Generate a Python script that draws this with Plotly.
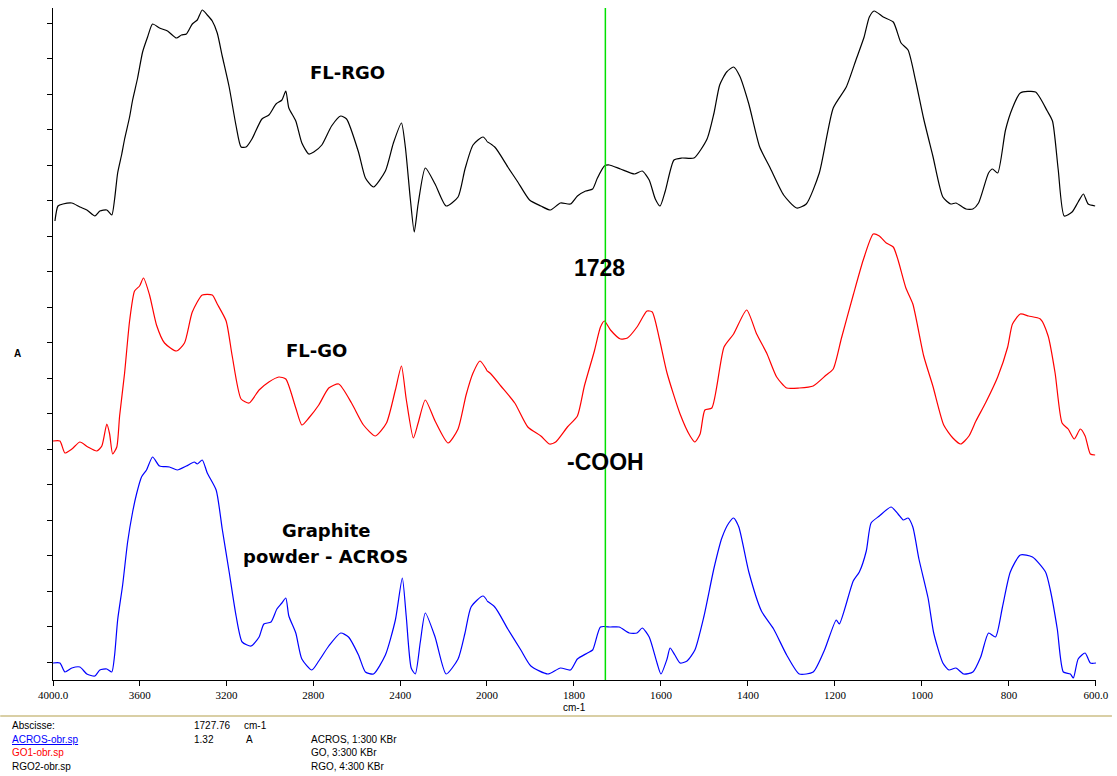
import plotly.graph_objects as go

# ---------------- data (wavenumber cm-1, absorbance in arbitrary units) ----------------
rgo_wn = [3991, 3977, 3954, 3913, 3876, 3844, 3807, 3784, 3752, 3729, 3716, 3702, 3683, 3670, 3647,
          3633, 3610, 3587, 3564, 3541, 3509, 3472, 3431, 3408, 3385, 3358, 3335, 3312, 3289, 3266,
          3243, 3220, 3188, 3156, 3133, 3110, 3083, 3037, 3005, 2972, 2945, 2927, 2913, 2881, 2853,
          2821, 2798, 2761, 2716, 2674, 2647, 2592, 2560, 2523, 2468, 2431, 2394, 2376, 2353, 2335,
          2317, 2284, 2239, 2188, 2133, 2101, 2064, 2018, 1982, 1952, 1929, 1902, 1876, 1854, 1831,
          1808, 1792, 1773, 1757, 1746, 1730, 1719, 1693, 1661, 1643, 1627, 1613, 1602, 1590, 1570,
          1552, 1524, 1494, 1478, 1465, 1449, 1433, 1419, 1398, 1373, 1350, 1318, 1288, 1266, 1236,
          1204, 1174, 1151, 1133, 1121, 1110, 1089, 1066, 1048, 1032, 1014, 996, 975, 952, 934,
          922, 899, 883, 870, 847, 838, 826, 808, 792, 774, 739, 712, 700, 687, 673,
          655, 641, 629, 618, 602]
rgo_a = [459, 474, 476, 477, 473, 470, 464, 469, 470, 465, 481, 507, 526, 541, 563,
         580, 602, 628, 643, 656, 652, 649, 642, 645, 646, 656, 660, 670, 665, 659,
         647, 624, 593, 554, 533, 533, 541, 561, 565, 576, 580, 589, 572, 559, 537,
         526, 528, 535, 554, 564, 561, 528, 502, 493, 509, 537, 557, 533, 481, 448,
         476, 512, 496, 474, 483, 511, 535, 543, 533, 513, 498, 480, 474, 470, 477,
         476, 484, 489, 491, 502, 514, 515, 511, 506, 509, 500, 481, 474, 489, 520,
         522, 522, 541, 567, 595, 608, 613, 604, 576, 533, 513, 485, 472, 476, 507,
         572, 593, 621, 643, 663, 669, 663, 658, 637, 630, 598, 561, 524, 483, 476,
         477, 471, 471, 477, 507, 511, 507, 550, 572, 587, 588, 569, 559, 511, 464,
         468, 478, 486, 476, 474]

go_wn = [4000, 3968, 3945, 3913, 3876, 3839, 3798, 3775, 3752, 3739, 3725, 3706, 3693, 3670, 3647,
         3624, 3601, 3583, 3555, 3523, 3486, 3431, 3394, 3358, 3312, 3266, 3243, 3202, 3174, 3133,
         3096, 3050, 3005, 2959, 2927, 2881, 2853, 2821, 2775, 2729, 2683, 2624, 2569, 2514, 2463,
         2422, 2394, 2372, 2339, 2317, 2284, 2239, 2179, 2133, 2096, 2064, 2032, 1993, 1968, 1936,
         1906, 1876, 1856, 1842, 1815, 1792, 1776, 1753, 1739, 1730, 1716, 1693, 1677, 1655, 1632,
         1620, 1604, 1586, 1556, 1533, 1522, 1510, 1499, 1483, 1455, 1433, 1403, 1380, 1357, 1334,
         1311, 1282, 1250, 1220, 1204, 1185, 1158, 1135, 1112, 1098, 1082, 1066, 1055, 1037, 1021,
         996, 975, 950, 929, 911, 892, 876, 854, 826, 803, 792, 774, 755, 728, 710,
         694, 678, 664, 650, 636, 625, 613, 602]
go_a = [239, 239, 227, 231, 238, 233, 229, 234, 256, 246, 226, 233, 264, 307, 359,
        389, 394, 402, 385, 355, 337, 329, 337, 368, 385, 385, 376, 359, 324, 281,
        277, 290, 298, 303, 301, 272, 255, 262, 275, 292, 296, 277, 255, 244, 257,
        290, 314, 281, 242, 257, 280, 259, 237, 251, 285, 307, 319, 307, 294, 277,
        253, 244, 236, 238, 253, 264, 294, 329, 353, 359, 350, 341, 342, 353, 369,
        368, 342, 307, 266, 244, 238, 246, 270, 272, 333, 346, 370, 346, 327, 303,
        292, 292, 294, 305, 311, 342, 385, 420, 446, 444, 437, 433, 420, 392, 376,
        324, 294, 255, 242, 236, 244, 259, 277, 303, 333, 356, 366, 364, 361, 344,
        307, 257, 251, 241, 251, 244, 226, 225]

acros_wn = [4000, 3968, 3945, 3913, 3876, 3844, 3807, 3784, 3752, 3729, 3716, 3702, 3679, 3656, 3633,
            3615, 3592, 3569, 3541, 3509, 3463, 3427, 3385, 3349, 3335, 3312, 3289, 3248, 3220, 3188,
            3156, 3128, 3087, 3050, 3028, 2995, 2968, 2945, 2927, 2913, 2881, 2853, 2807, 2775, 2729,
            2674, 2638, 2592, 2560, 2523, 2468, 2422, 2390, 2372, 2349, 2330, 2307, 2284, 2239, 2188,
            2133, 2101, 2073, 2018, 1982, 1952, 1922, 1899, 1860, 1831, 1808, 1792, 1769, 1757, 1739,
            1716, 1696, 1673, 1655, 1643, 1627, 1609, 1600, 1586, 1579, 1568, 1556, 1540, 1522, 1501,
            1478, 1460, 1444, 1433, 1421, 1398, 1369, 1341, 1311, 1282, 1250, 1224, 1197, 1190, 1158,
            1144, 1128, 1117, 1098, 1071, 1055, 1043, 1032, 1021, 1007, 986, 973, 952, 938, 922,
            904, 883, 865, 847, 831, 815, 797, 774, 746, 716, 705, 689, 675, 659, 652,
            641, 625, 613, 600]
acros_a = [17, 17, 8, 12, 13, 6, 4, 10, 11, 8, 25, 60, 95, 138, 168,
           186, 203, 210, 223, 214, 213, 210, 214, 218, 216, 220, 207, 190, 151, 108,
           64, 38, 34, 43, 56, 58, 71, 77, 82, 64, 47, 21, 10, 19, 34,
           47, 43, 25, 8, 6, 25, 60, 102, 64, 12, 6, 38, 67, 43, 6,
           21, 47, 73, 84, 73, 51, 30, 14, 6, 12, 10, 21, 27, 30, 53,
           53, 53, 47, 47, 52, 43, 17, 6, 21, 32, 25, 17, 19, 30, 64,
           112, 142, 157, 162, 153, 108, 69, 51, 25, 6, 8, 30, 60, 56, 99,
           108, 129, 157, 164, 173, 166, 160, 162, 153, 121, 82, 47, 17, 10, 12,
           6, 8, 23, 47, 43, 73, 108, 125, 123, 108, 90, 51, 8, 6, 2,
           21, 27, 17, 17]

cursor_wn = 1727.76
hi_ticks = [4000, 3600, 3200, 2800, 2400]
hi_ticktext = ["4000.0", "3600", "3200", "2800", "2400"]
lo_ticks = [2000, 1800, 1600, 1400, 1200, 1000, 800, 600]
lo_ticktext = ["2000", "1800", "1600", "1400", "1200", "1000", "800", "600.0"]
BREAK = 2000

# ---------------- geometry ----------------
W, H = 1117, 776
ML, MR, MT, MB = 53, 16, 8, 96
PW, PH = W - ML - MR, H - MT - MB
split_frac = 436 / PW


def px(xp):
    return (xp - ML) / PW


def py(yp):
    return (H - MB - yp) / PH


def split(wn, a):
    k = next(i for i, w in enumerate(wn) if w < BREAK)
    return (wn[:k + 1], a[:k + 1]), (wn[k - 1:], a[k - 1:])


fig = go.Figure()
for wn, a, col, name in [(acros_wn, acros_a, "#0000ff", "ACROS-obr.sp"),
                         (go_wn, go_a, "#ff0000", "GO1-obr.sp"),
                         (rgo_wn, rgo_a, "#000000", "RGO2-obr.sp")]:
    (w1, a1), (w2, a2) = split(wn, a)
    ln = dict(color=col, width=1.2, shape="spline", smoothing=0.6)
    fig.add_trace(go.Scatter(x=w1, y=a1, mode="lines", line=ln,
                             xaxis="x", yaxis="y", name=name, showlegend=False))
    fig.add_trace(go.Scatter(x=w2, y=a2, mode="lines", line=ln,
                             xaxis="x2", yaxis="y", name=name, showlegend=False))

tickfont = dict(family="Liberation Serif", size=11, color="black")
fig.update_layout(
    width=W, height=H, margin=dict(l=ML, r=MR, t=MT, b=MB),
    paper_bgcolor="white", plot_bgcolor="white",
    xaxis=dict(domain=[0, split_frac], range=[4000, BREAK], tickvals=hi_ticks, ticktext=hi_ticktext,
               showgrid=False, zeroline=False, showline=True, linecolor="black", linewidth=1,
               ticks="outside", ticklen=5, tickcolor="black", tickfont=tickfont, anchor="y"),
    xaxis2=dict(domain=[split_frac, 1], range=[BREAK, 600], tickvals=lo_ticks, ticktext=lo_ticktext,
                showgrid=False, zeroline=False, showline=True, linecolor="black", linewidth=1,
                ticks="outside", ticklen=5, tickcolor="black", tickfont=tickfont, anchor="y"),
    yaxis=dict(range=[0, 672], showgrid=False, zeroline=False, showline=True, linecolor="black",
               linewidth=1, ticks="outside", ticklen=5, tickcolor="black", tick0=18, dtick=35.5,
               showticklabels=False),
)

# cursor line
fig.add_shape(type="line", xref="x2", yref="paper", x0=cursor_wn, x1=cursor_wn, y0=0, y1=1,
              line=dict(color="#00e000", width=1.5))
# separator line
fig.add_shape(type="line", xref="paper", yref="paper", x0=px(0), x1=px(W), y0=py(716), y1=py(716),
              line=dict(color="#d9cfa5", width=2))

lab = dict(family="DejaVu Sans", size=18, color="black", weight="bold")
big = dict(family="Liberation Sans", size=23, color="black", weight="bold")
anns = [
    ("FL-RGO", 349, 72, lab, "center"),
    ("FL-GO", 318, 350, lab, "center"),
    ("Graphite", 327, 530, lab, "center"),
    ("powder - ACROS", 327, 556, lab, "center"),
    ("1728", 602, 268, big, "center"),
    ("-COOH", 608, 462, big, "center"),
]
for t, x, y, f, al in anns:
    fig.add_annotation(text=t, x=px(x), y=py(y), xref="paper", yref="paper", showarrow=False,
                       font=f, xanchor=al, yanchor="middle")

small = dict(family="Liberation Sans", size=10, color="black")
fig.add_annotation(text="<b>A</b>", x=px(17), y=py(353), xref="paper", yref="paper", showarrow=False,
                   font=small, xanchor="center", yanchor="middle")
fig.add_annotation(text="cm-1", x=px(577), y=py(707), xref="paper", yref="paper", showarrow=False,
                   font=small, xanchor="center", yanchor="middle")

table = [
    ("Abscisse:", 10, 725, "black"),
    ("1727.76", 193, 725, "black"),
    ("cm-1", 243, 725, "black"),
    ("<u>ACROS-obr.sp</u>", 10, 739, "#0000ff"),
    ("1.32", 193, 739, "black"),
    ("A", 245, 739, "black"),
    ("ACROS, 1:300 KBr", 310, 739, "black"),
    ("GO1-obr.sp", 10, 752, "#ff0000"),
    ("GO, 3:300 KBr", 310, 752, "black"),
    ("RGO2-obr.sp", 10, 766, "black"),
    ("RGO, 4:300 KBr", 310, 766, "black"),
]
for t, x, y, c in table:
    fig.add_annotation(text=t, x=px(x), y=py(y), xref="paper", yref="paper", showarrow=False,
                       font=dict(family="Liberation Sans", size=10, color=c),
                       xanchor="left", yanchor="middle")

fig.write_html("out.html")
